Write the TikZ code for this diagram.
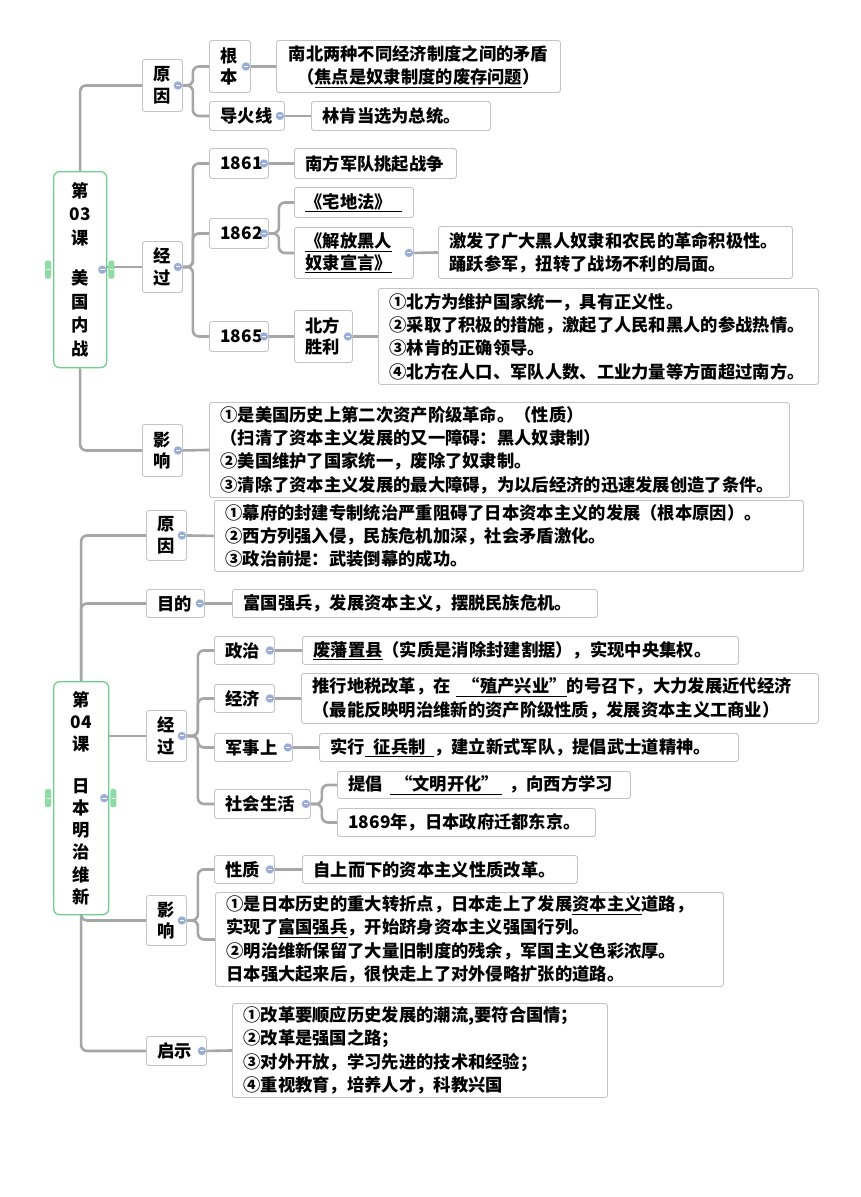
\documentclass[tikz,border=0pt]{standalone}
\usepackage{fontspec}
\setmainfont{Noto Sans CJK SC}
\newfontfamily\fwfont{Noto Sans CJK SC}[RawFeature=+fwid]
\newcommand\cn[1]{{\fwfont\bfseries #1}}
\usetikzlibrary{backgrounds}
\definecolor{linegray}{HTML}{A6A6A6}
\definecolor{boxborder}{HTML}{C4C4C4}
\definecolor{rootgreen}{HTML}{6FCF8E}
\definecolor{tabgreen}{HTML}{8FDBA5}
\definecolor{minusblue}{HTML}{9AACD8}
\tikzset{
  box/.style={draw=boxborder, line width=0.9pt, rounded corners=2.5pt, fill=white,
    inner xsep=11pt, inner ysep=0pt, anchor=north west, align=left,
    font=\fontsize{17.3}{23.3}\selectfont\bfseries},
  lbl/.style={font=\fontsize{17.3}{21.5}\selectfont\bfseries},
  rootbox/.style={draw=rootgreen, line width=1.3pt, rounded corners=6pt, fill=white,
    inner sep=0pt, anchor=north west, align=center},
  conn/.style={draw=linegray, line width=2.6pt, rounded corners=6pt},
}
\newcommand\bx[7][]{\pgfmathsetmacro\bxw{#5-#3-22}\pgfmathsetmacro\bxh{#6-#4}%
  \node[box,#1,text width=\bxw pt,minimum height=\bxh pt] (#2) at (#3,#4) {#7};}
\begin{document}
\begin{tikzpicture}[x=1pt,y=-1pt]
\useasboundingbox (0,0) rectangle (861,1197);
% ---------- Lesson 03 ----------
\node[rootbox, minimum width=53pt, minimum height=196pt,
  font=\fontsize{17.3}{23.5}\selectfont\bfseries] (r1) at (53,171)
  {第\\03\\课\\[17pt]美\\国\\内\\战};
\bx[lbl]{yy1}{142}{59}{182}{111}{原\\因}
\bx[lbl]{gb}{209}{40}{250}{92}{根\\本}
\bx[align=center]{gbt}{276}{40}{560}{92}{南北两种不同经济制度之间的矛盾\\（\underline{焦点是奴隶制度的废存问题}）}
\bx{dhx}{209}{101}{284}{130}{导火线}
\bx{dhxt}{311}{101}{490}{130}{林肯当选为总统。}
\bx[lbl]{jg1}{142}{241}{182}{292}{经\\过}
\bx{n61}{209}{148}{268}{178}{1861}
\bx{n61t}{294}{148}{456}{178}{南方军队挑起战争}
\bx{n62}{209}{218}{268}{248}{1862}
\bx{zdf}{294}{187}{413}{217}{\underline{《宅地法》\hspace{0.6em}}}
\bx[lbl]{jf}{294}{227}{413}{278}{\underline{《解放黑人}\\\underline{奴隶宣言》}}
\bx{jft}{438}{226}{792}{278}{激发了广大黑人奴隶和农民的革命积极性。\\踊跃参军，扭转了战场不利的局面。}
\bx{n65}{209}{321}{268}{351}{1865}
\bx[lbl]{bfsl}{294}{310}{352}{362}{北方\\胜利}
\bx{bfslt}{378}{288}{818}{384}{\cn{①}北方为维护国家统一，具有正义性。\\\cn{②}采取了积极的措施，激起了人民和黑人的参战热情。\\\cn{③}林肯的正确领导。\\\cn{④}北方在人口、军队人数、工业力量等方面超过南方。}
\bx[lbl]{yx1}{142}{424}{182}{476}{影\\响}
\bx{yx1t}{209}{402}{789}{497}{\cn{①}是美国历史上第二次资产阶级革命。（性质）\\（扫清了资本主义发展的又一障碍：黑人奴隶制）\\\cn{②}美国维护了国家统一，废除了奴隶制。\\\cn{③}清除了资本主义发展的最大障碍，为以后经济的迅速发展创造了条件。}
% ---------- Lesson 04 ----------
\node[rootbox, minimum width=55pt, minimum height=233pt,
  font=\fontsize{17.3}{22.3}\selectfont\bfseries] (r2) at (53,681)
  {第\\04\\课\\[19pt]日\\本\\明\\治\\维\\新};
\bx[lbl]{yy2}{146}{510}{186}{560}{原\\因}
\bx{yy2t}{214}{500}{803}{571}{\cn{①}幕府的封建专制统治严重阻碍了日本资本主义的发展（根本原因）。\\\cn{②}西方列强入侵，民族危机加深，社会矛盾激化。\\\cn{③}政治前提：武装倒幕的成功。}
\bx{md}{146}{589}{204}{617}{目的}
\bx{mdt}{232}{589}{597}{617}{富国强兵，发展资本主义，摆脱民族危机。}
\bx[lbl]{jg2}{146}{710}{186}{761}{经\\过}
\bx{zz}{214}{636}{274}{664}{政治}
\bx{zzt}{302}{636}{738}{664}{\underline{废藩置县}（实质是消除封建割据），实现中央集权。}
\bx{jj}{214}{684}{274}{712}{经济}
\bx{jjt}{301}{673}{818}{723}{推行地税改革，在\hspace{0.3em}\underline{\hspace{0.4em}“殖产兴业”}的号召下，大力发展近代经济\\（最能反映明治维新的资产阶级性质，发展资本主义工商业）}
\bx{js}{214}{733}{292}{761}{军事上}
\bx{jst}{319}{733}{738}{761}{实行\underline{\hspace{0.5em}征兵制\hspace{0.5em}}，建立新式军队，提倡武士道精神。}
\bx{sh}{214}{789}{310}{818}{社会生活}
\bx{sht1}{337}{771}{630}{798}{提倡\hspace{0.4em}\underline{\hspace{0.3em}“文明开化”\hspace{0.2em}}\hspace{0.4em}，向西方学习}
\bx{sht2}{337}{808}{595}{836}{1869年，日本政府迁都东京。}
\bx[lbl]{yx2}{146}{895}{186}{945}{影\\响}
\bx{xz}{214}{855}{274}{883}{性质}
\bx{xzt}{302}{855}{577}{883}{自上而下的资本主义性质改革。}
\bx{yx2t}{215}{892}{723}{986}{\cn{①}是日本历史的重大转折点，日本走上了发展\underline{资本主义}道路，\\实现了\underline{富国强兵}，开始跻身资本主义强国行列。\\\cn{②}明治维新保留了大量旧制度的残余，军国主义色彩浓厚。\\日本强大起来后，很快走上了对外侵略扩张的道路。}
\bx{qs}{146}{1036}{206}{1065}{启示}
\bx{qst}{232}{1003}{607}{1097}{\cn{①}改革要顺应历史发展的潮流,要符合国情；\\\cn{②}改革是强国之路；\\\cn{③}对外开放，学习先进的技术和经验；\\\cn{④}重视教育，培养人才，科教兴国}
% ---------- connectors ----------
\begin{scope}[on background layer]
\fill[white] (0,0) rectangle (861,1197);
\draw[conn] (r1.north) |- (yy1.west);
\draw[conn] (r1.east |- jg1.west) -- (jg1.west);
\draw[conn] (r1.south) |- (yx1.west);
\draw[conn] (yy1.east) -- ++(10,0) |- (gb.west);
\draw[conn] (yy1.east) -- ++(10,0) |- (dhx.west);
\draw[conn] (gb.east) -- (gbt.west);
\draw[conn] (dhx.east) -- (dhxt.west);
\draw[conn] (jg1.east) -- ++(10,0) |- (n61.west);
\draw[conn] (jg1.east) -- ++(10,0) |- (n62.west);
\draw[conn] (jg1.east) -- ++(10,0) |- (n65.west);
\draw[conn] (n61.east) -- (n61t.west);
\draw[conn] (n62.east) -- ++(10,0) |- (zdf.west);
\draw[conn] (n62.east) -- ++(10,0) |- (jf.west);
\draw[conn] (jf.east) -- (jft.west);
\draw[conn] (n65.east) -- (bfsl.west);
\draw[conn] (bfsl.east) -- (bfslt.west);
\draw[conn] (yx1.east) -- (yx1t.west);
\draw[conn] (r2.north) |- (yy2.west);
\draw[conn] (r2.north) |- (md.west);
\draw[conn] (r2.east |- jg2.west) -- (jg2.west);
\draw[conn] (r2.south) |- (yx2.west);
\draw[conn] (r2.south) |- (qs.west);
\draw[conn] (yy2.east) -- (yy2t.west);
\draw[conn] (md.east) -- (mdt.west);
\draw[conn] (jg2.east) -- ++(11,0) |- (zz.west);
\draw[conn] (jg2.east) -- ++(11,0) |- (jj.west);
\draw[conn] (jg2.east) -- ++(11,0) |- (js.west);
\draw[conn] (jg2.east) -- ++(11,0) |- (sh.west);
\draw[conn] (zz.east) -- (zzt.west);
\draw[conn] (jj.east) -- (jjt.west);
\draw[conn] (js.east) -- (jst.west);
\draw[conn] (sh.east) -- ++(11,0) |- (sht1.west);
\draw[conn] (sh.east) -- ++(11,0) |- (sht2.west);
\draw[conn] (yx2.east) -- ++(11,0) |- (xz.west);
\draw[conn] (yx2.east) -- ++(11,0) |- (yx2t.west);
\draw[conn] (xz.east) -- (xzt.west);
\draw[conn] (qs.east) -- (qst.west);
\end{scope}
% ---------- collapse markers ----------
\foreach \n in {r1,yy1,gb,dhx,jg1,n61,n62,jf,n65,bfsl,yx1,r2,yy2,md,jg2,zz,jj,js,sh,yx2,xz,qs}{
  \fill[minusblue] ([xshift=-5pt]\n.east) circle (4.2pt);
  \draw[white, line width=1pt] ([xshift=-7.3pt]\n.east) -- ([xshift=-2.7pt]\n.east);
}
\foreach \r in {r1,r2}{
  \fill[tabgreen, rounded corners=2pt] ([xshift=-8pt,yshift=9pt]\r.west) rectangle ([xshift=-2pt,yshift=-9pt]\r.west);
  \fill[tabgreen, rounded corners=2pt] ([xshift=1pt,yshift=9pt]\r.east) rectangle ([xshift=7pt,yshift=-9pt]\r.east);
  \draw[white, line width=0.6pt] ([xshift=-6.5pt]\r.west) -- ([xshift=-3.5pt]\r.west);
  \draw[white, line width=0.6pt] ([xshift=2.5pt]\r.east) -- ([xshift=5.5pt]\r.east);
}
\end{tikzpicture}
\end{document}
